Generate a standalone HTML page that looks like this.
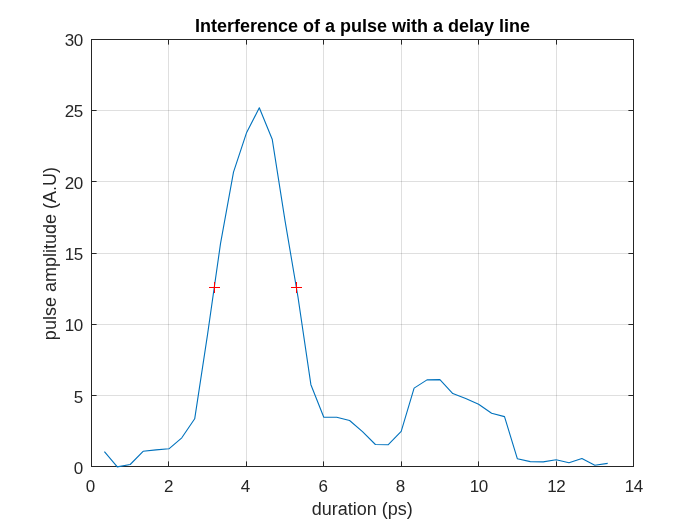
<!DOCTYPE html>
<html><head><meta charset="utf-8"><title>Interference of a pulse with a delay line</title>
<style>
html,body{margin:0;padding:0;background:#fff;}
body{width:700px;height:525px;overflow:hidden;}
svg{display:block;}
text{font-family:"Liberation Sans",Arial,Helvetica,sans-serif;}
.tick{font-size:17px;fill:#262626;letter-spacing:-0.35px;}
.lab{font-size:18px;fill:#262626;}
.title{font-size:18px;font-weight:bold;fill:#000;}
</style></head><body>
<svg width="700" height="525" viewBox="0 0 700 525">
<rect x="0" y="0" width="700" height="525" fill="#ffffff"/>
<g stroke="#262626" stroke-opacity="0.15" stroke-width="1">
<line x1="168.5" y1="39.5" x2="168.5" y2="466.5"/>
<line x1="246.5" y1="39.5" x2="246.5" y2="466.5"/>
<line x1="323.5" y1="39.5" x2="323.5" y2="466.5"/>
<line x1="401.5" y1="39.5" x2="401.5" y2="466.5"/>
<line x1="478.5" y1="39.5" x2="478.5" y2="466.5"/>
<line x1="556.5" y1="39.5" x2="556.5" y2="466.5"/>
<line x1="91.5" y1="395.5" x2="633.5" y2="395.5"/>
<line x1="91.5" y1="324.5" x2="633.5" y2="324.5"/>
<line x1="91.5" y1="253.5" x2="633.5" y2="253.5"/>
<line x1="91.5" y1="181.5" x2="633.5" y2="181.5"/>
<line x1="91.5" y1="110.5" x2="633.5" y2="110.5"/>
</g>
<g stroke="#262626" stroke-width="1" fill="none">
<rect x="91.5" y="39.5" width="542.0" height="427.0"/>
<line x1="168.5" y1="466.5" x2="168.5" y2="461.4"/>
<line x1="168.5" y1="39.5" x2="168.5" y2="44.6"/>
<line x1="246.5" y1="466.5" x2="246.5" y2="461.4"/>
<line x1="246.5" y1="39.5" x2="246.5" y2="44.6"/>
<line x1="323.5" y1="466.5" x2="323.5" y2="461.4"/>
<line x1="323.5" y1="39.5" x2="323.5" y2="44.6"/>
<line x1="401.5" y1="466.5" x2="401.5" y2="461.4"/>
<line x1="401.5" y1="39.5" x2="401.5" y2="44.6"/>
<line x1="478.5" y1="466.5" x2="478.5" y2="461.4"/>
<line x1="478.5" y1="39.5" x2="478.5" y2="44.6"/>
<line x1="556.5" y1="466.5" x2="556.5" y2="461.4"/>
<line x1="556.5" y1="39.5" x2="556.5" y2="44.6"/>
<line x1="91.5" y1="395.5" x2="96.6" y2="395.5"/>
<line x1="633.5" y1="395.5" x2="628.4" y2="395.5"/>
<line x1="91.5" y1="324.5" x2="96.6" y2="324.5"/>
<line x1="633.5" y1="324.5" x2="628.4" y2="324.5"/>
<line x1="91.5" y1="253.5" x2="96.6" y2="253.5"/>
<line x1="633.5" y1="253.5" x2="628.4" y2="253.5"/>
<line x1="91.5" y1="181.5" x2="96.6" y2="181.5"/>
<line x1="633.5" y1="181.5" x2="628.4" y2="181.5"/>
<line x1="91.5" y1="110.5" x2="96.6" y2="110.5"/>
<line x1="633.5" y1="110.5" x2="628.4" y2="110.5"/>
</g>
<polyline fill="none" stroke="#0072bd" stroke-width="1.1" stroke-linejoin="round" points="104.4,451.6 117.3,466.9 130.2,464.5 143.1,451.3 156.0,449.9 168.9,448.8 181.8,437.8 194.7,418.8 207.6,334.2 220.5,243.7 233.5,172.2 246.4,133.1 259.3,107.8 272.2,139.2 285.1,221.2 298.0,297.2 310.9,384.7 323.8,417.3 336.7,417.3 349.6,420.5 362.5,431.6 375.4,444.5 388.3,444.7 401.2,431.3 414.1,388.1 427.0,379.9 439.9,379.6 452.8,393.6 465.7,398.5 478.6,404.2 491.6,413.3 504.5,416.6 517.4,458.8 530.3,461.6 543.2,461.9 556.1,459.8 569.0,462.8 581.9,458.6 594.8,465.3 607.7,463.4"/>
<path d="M209.0 287.5H220.0M214.5 282.0V293.0" stroke="#ff0000" stroke-width="1" fill="none"/>
<path d="M291.0 287.5H302.0M296.5 282.0V293.0" stroke="#ff0000" stroke-width="1" fill="none"/>
<text class="tick" x="90.40" y="492" text-anchor="middle">0</text>
<text class="tick" x="168.43" y="492" text-anchor="middle">2</text>
<text class="tick" x="245.26" y="492" text-anchor="middle">4</text>
<text class="tick" x="323.09" y="492" text-anchor="middle">6</text>
<text class="tick" x="400.21" y="492" text-anchor="middle">8</text>
<text class="tick" x="478.84" y="492" text-anchor="middle">10</text>
<text class="tick" x="556.27" y="492" text-anchor="middle">12</text>
<text class="tick" x="633.80" y="492" text-anchor="middle">14</text>
<text class="tick" x="82.85" y="474" text-anchor="end">0</text>
<text class="tick" x="82.85" y="403" text-anchor="end">5</text>
<text class="tick" x="82.85" y="331" text-anchor="end">10</text>
<text class="tick" x="82.85" y="260" text-anchor="end">15</text>
<text class="tick" x="82.85" y="189" text-anchor="end">20</text>
<text class="tick" x="82.85" y="117" text-anchor="end">25</text>
<text class="tick" x="82.85" y="46" text-anchor="end">30</text>
<text class="lab" x="362.3" y="515.4" text-anchor="middle">duration (ps)</text>
<text class="lab" transform="translate(56.3,253.6) rotate(-90)" text-anchor="middle">pulse amplitude (A.U)</text>
<text class="title" x="362.5" y="31.8" text-anchor="middle">Interference of a pulse with a delay line</text>
</svg></body></html>
